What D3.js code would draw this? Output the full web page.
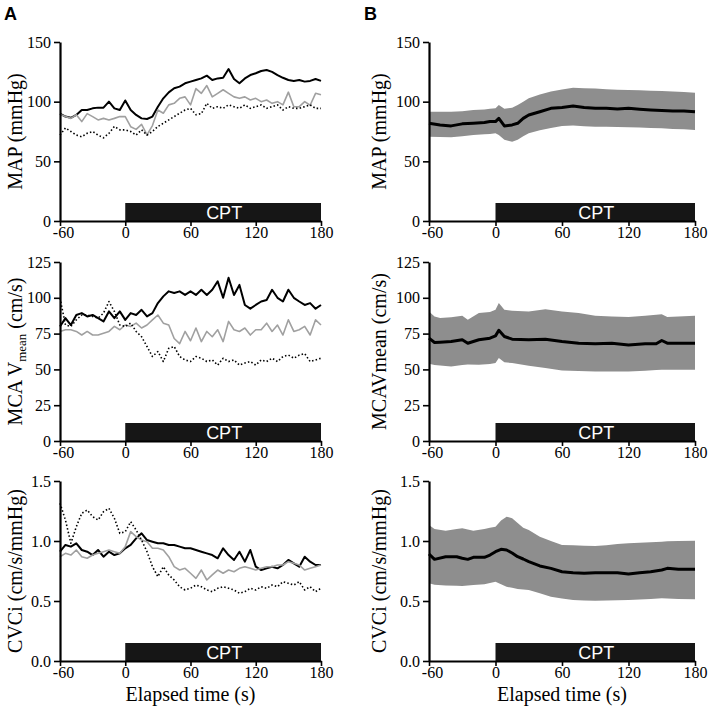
<!DOCTYPE html>
<html>
<head>
<meta charset="utf-8">
<script src="https://cdn.jsdelivr.net/npm/d3@7"></script>
<style>
  body { margin: 0; background: #fff; }
</style>
</head>
<body>
<div id="chart"></div>
<script>
// data

// panel A: individual subjects, sampled every 5 s
var aTime = [-60,-55,-50,-45,-40,-35,-30,-25,-20,-15,-10,-5,0,5,10,15,20,25,30,35,40,45,50,55,60,65,70,75,80,85,90,95,100,105,110,115,120,125,130,135,140,145,150,155,160,165,170,175,180];

var aMapBlack = [90,87.5,86.5,88.9,93,93,94.4,95,95,100,94.4,93,101,93,88.9,86,85.5,87.5,95.8,102.8,107.8,111.2,112.6,115.4,116.8,118.2,119.5,121.8,118.2,119.5,120,127.3,119,115.4,119.5,122.3,123.8,125.7,126.5,125,122.3,120,118.2,117.4,118.2,116.8,117.4,119,117.4];
var aMapGray = [89.4,87.5,86,89,83.3,90,87.5,84.7,86,84.7,86,87.5,87.5,79,76.8,81,72.2,80,93,90.3,97.3,98.6,102.8,104,97.3,111,107,113.5,104,107,110,107,104,102.8,104,101.4,102.8,100,101.4,98.6,100,97.3,108,95.8,95.8,100,97,107,105.8];
var aMapDot = [72,78,75,72,70.6,73.5,75,72,69.7,73.5,79.2,76.4,76.4,75,72,76.4,72,75,79.2,81.9,84.7,87.5,90.3,93,94.4,89,90,98.6,94.4,95.8,94.4,97.3,95.8,94.4,97.3,94.4,95.8,97.3,94.4,95.8,97.3,93,95.8,94.4,94.4,95.8,97.3,94.4,94.4];

var aMcaBlack = [80,85.8,81,88,89.3,87,88,85.8,83.5,90.5,85.8,90.5,84.6,89.3,88,91.6,87,89.3,96.3,101,104.5,103.3,104.5,102,104.5,102,105.6,102,105.6,111.5,100,114,102,109,95,92.4,95,97.4,98.5,105.6,100,97.4,105.6,100,97.4,95,96.3,92.4,95];
var aMcaGray = [76.5,77.7,77.7,76.5,74,76.5,74,74,75.3,76.5,80,77.7,81,80,82.3,78.9,81,84.6,88,82.3,81,71.6,68,76.5,70,78.9,69.4,76.5,72.8,77.7,69.4,83.5,77.7,76.5,78.9,74,77.7,77.7,82.3,76.5,81,74,84.6,76.5,77.7,80,74,84.6,81];
var aMcaDot = [99.8,81,80,84.6,88,88,87,85.8,89.3,97.4,90.5,81,80,82.3,76.5,72.8,66,59,62.5,55.5,64.7,66,59,56.6,55.5,59,57.8,55.5,56.6,53,57.8,55.5,56.6,53,54.4,55.5,53,56.6,55.5,57.8,55.5,59,60,57.8,60,61,55.5,56.6,57.8];

var aCvcBlack = [0.911,0.967,0.953,0.981,0.925,0.911,0.883,0.925,0.869,0.911,0.883,0.897,0.939,0.967,1.022,1.064,1.008,0.994,0.981,0.981,0.967,0.967,0.953,0.939,0.939,0.925,0.911,0.897,0.883,0.856,0.939,0.883,0.842,0.911,0.828,0.925,0.786,0.758,0.772,0.786,0.772,0.8,0.842,0.814,0.786,0.869,0.828,0.8,0.8];
var aCvcGray = [0.869,0.897,0.883,0.925,0.869,0.856,0.883,0.897,0.911,0.925,0.911,0.897,0.953,1.078,1.036,1.008,0.994,0.939,0.939,0.925,0.869,0.786,0.758,0.772,0.731,0.689,0.758,0.675,0.717,0.758,0.731,0.758,0.744,0.772,0.786,0.772,0.758,0.772,0.786,0.786,0.8,0.8,0.828,0.814,0.8,0.758,0.772,0.786,0.8];
var aCvcDot = [1.314,1.175,0.981,1.119,1.231,1.258,1.203,1.175,1.244,1.272,1.189,1.064,1.078,1.161,1.092,1.008,0.911,0.786,0.703,0.786,0.717,0.675,0.619,0.592,0.606,0.633,0.619,0.592,0.578,0.606,0.619,0.606,0.592,0.564,0.578,0.606,0.592,0.619,0.606,0.633,0.619,0.661,0.647,0.633,0.661,0.592,0.619,0.578,0.606];

// panel B: group mean with SD band
var bMapTime = [-60,-50,-40,-30,-20,-10,-5,0,3,8,15,20,25,30,40,50,60,70,80,90,100,110,120,130,140,150,160,170,180];
var bMapMean = [81.9,80.5,79.7,81.4,81.9,82.5,83.3,83.3,86,79.7,80.5,81.9,86,88.8,91.6,94.4,95.2,96.3,95.2,94.4,94.4,93.8,94.4,93.6,93,92.5,92.2,92.2,91.6];
var bMapHi = [91.6,91.5,91.6,92,93,93.5,94,94.4,97.2,94,95,97.2,100,102.8,106,108.5,110.3,111.7,111.2,111,110.5,110,109.7,109.5,109.2,109,108.5,108,107.5];
var bMapLo = [70.7,70.4,70.1,71,72.1,72.8,73,73.5,72,68,66.5,68,71,73.5,76,78,79.7,80,79.5,79,79,78.8,78.6,78.3,78,77.7,77.2,76.8,76.3];

var bMcaTime = [-60,-55,-50,-40,-30,-25,-15,-5,0,3,8,15,30,45,60,75,90,105,120,135,145,150,155,165,180];
var bMcaMean = [71.8,68.8,69,69.5,70.7,68.3,70.7,71.8,73.4,77.3,73,71.1,70.7,71.1,69.5,68.3,67.9,68.3,67.1,67.9,67.9,70.2,68.3,68.3,68.3];
var bMcaHi = [90.5,87,85.9,86.5,87.5,84.6,89.3,90,91.6,96.3,91.6,91,90.5,92,90.5,89.3,87.5,87,86.6,87.5,88.2,88.5,86.6,87,87.5];
var bMcaLo = [53.9,53,52.8,52.1,53,53.5,53.2,53.8,54.4,57.9,55,54.4,52.5,50.9,49.3,48.8,48.6,48.6,48.6,49,49.5,49.8,49.8,49.8,49.8];

var bCvcTime = [-60,-55,-45,-35,-30,-25,-20,-10,-5,0,5,10,15,20,25,30,40,50,60,70,80,90,100,110,120,130,140,150,155,165,180];
var bCvcMean = [0.892,0.847,0.869,0.869,0.856,0.847,0.864,0.864,0.883,0.911,0.931,0.925,0.9,0.869,0.85,0.828,0.792,0.772,0.744,0.736,0.731,0.736,0.736,0.736,0.725,0.736,0.744,0.758,0.772,0.764,0.764];
var bCvcHi = [1.133,1.1,1.085,1.1,1.106,1.095,1.086,1.1,1.11,1.119,1.17,1.203,1.19,1.15,1.11,1.092,1.036,1.0,0.967,0.965,0.96,0.958,0.965,0.975,0.981,0.985,0.99,0.994,0.998,1.0,1.003];
var bCvcLo = [0.647,0.635,0.63,0.628,0.625,0.63,0.633,0.64,0.65,0.661,0.64,0.619,0.61,0.6,0.595,0.592,0.565,0.536,0.52,0.508,0.505,0.503,0.505,0.507,0.508,0.512,0.516,0.522,0.52,0.516,0.514];

// axis ticks
var xTicks = [-60, 0, 60, 120, 180];
var mapTicks = [0, 50, 100, 150];
var mcaTicks = [0, 25, 50, 75, 100, 125];
var cvcTicks = [0, 0.5, 1.0, 1.5];
var cptStart = 0, cptEnd = 180;

// layout
var svgWidth = 709, svgHeight = 708;
var cols = [{x0: 60, x1: 321, labelX: 22}, {x0: 429, x1: 695, labelX: 386}];
var rows = [{y0: 42, y1: 221}, {y0: 262, y1: 441}, {y0: 481, y1: 661}];
var serif = '"Liberation Serif", "Times New Roman", serif';
var sans = '"Liberation Sans", Arial, sans-serif';

var svg = d3.select('#chart')
  .append('svg')
  .attr('width', svgWidth)
  .attr('height', svgHeight);

// panel letters
svg.append('text').attr('x', 4).attr('y', 20)
  .style('font-family', sans).style('font-weight', 'bold').style('font-size', '18px')
  .text('A');
svg.append('text').attr('x', 364).attr('y', 20)
  .style('font-family', sans).style('font-weight', 'bold').style('font-size', '18px')
  .text('B');

// plain hyphen for negative numbers, like the figure
var xFmt = d => String(d);

// draws one panel with axes and the CPT bar, returns the scales
function drawPanel(col, row, yMax, yTicks, yFmt) {
  var x = d3.scaleLinear().domain([-60, 180]).range([col.x0, col.x1]);
  var y = d3.scaleLinear().domain([0, yMax]).range([row.y1, row.y0]);

  var g = svg.append('g');

  // CPT bar
  g.append('rect')
    .attr('x', x(cptStart))
    .attr('y', row.y1 - 18)
    .attr('width', x(cptEnd) - x(cptStart))
    .attr('height', 18)
    .attr('fill', '#161616');
  g.append('text')
    .attr('x', (x(cptStart) + x(cptEnd)) / 2 + 1)
    .attr('y', row.y1 - 2)
    .attr('text-anchor', 'middle')
    .style('font-family', sans)
    .style('font-size', '18px')
    .attr('fill', '#fff')
    .text('CPT');

  var xAxis = g.append('g')
    .attr('transform', `translate(0, ${row.y1})`)
    .call(d3.axisBottom(x).tickValues(xTicks).tickFormat(xFmt).tickSize(5).tickSizeOuter(0).tickPadding(1));
  xAxis.selectAll('text')
    .style('font-family', serif)
    .style('font-size', '16px')
    .attr('fill', '#000');
  // nudge the first label clear of the y-axis zero
  xAxis.selectAll('.tick text').filter(d => d === -60).attr('dx', 3);

  var yAxis = g.append('g')
    .attr('transform', `translate(${col.x0}, 0)`)
    .call(d3.axisLeft(y).tickValues(yTicks).tickFormat(yFmt).tickSize(6).tickSizeOuter(0).tickPadding(3));
  yAxis.selectAll('text')
    .style('font-family', serif)
    .style('font-size', '16px')
    .attr('fill', '#000');

  g.selectAll('.domain').attr('stroke-width', 2.2);
  g.selectAll('.tick line').attr('stroke-width', 1.6);

  return {x: x, y: y, g: g};
}

function drawLine(p, times, values, color, width, dash) {
  var line = d3.line()
    .x((d, i) => p.x(times[i]))
    .y(d => p.y(d));
  p.g.insert('path', ':first-child')
    .datum(values)
    .attr('d', line)
    .attr('fill', 'none')
    .attr('stroke', color)
    .attr('stroke-width', width)
    .attr('stroke-linejoin', 'round')
    .attr('stroke-dasharray', dash);
}

function drawBand(p, times, mean, lo, hi) {
  var area = d3.area()
    .x((d, i) => p.x(times[i]))
    .y0((d, i) => p.y(lo[i]))
    .y1((d, i) => p.y(hi[i]));
  var line = d3.line()
    .x((d, i) => p.x(times[i]))
    .y(d => p.y(d));
  var layer = p.g.insert('g', ':first-child');
  layer.append('path')
    .datum(mean)
    .attr('d', area)
    .attr('fill', '#8e8e8e');
  layer.append('path')
    .datum(mean)
    .attr('d', line)
    .attr('fill', 'none')
    .attr('stroke', '#000')
    .attr('stroke-width', 3)
    .attr('stroke-linejoin', 'round');
}

function yLabel(col, row, build) {
  var t = svg.append('text')
    .attr('transform', `translate(${col.labelX}, ${(row.y0 + row.y1) / 2}) rotate(-90)`)
    .attr('text-anchor', 'middle')
    .style('font-family', serif)
    .style('font-size', '20px');
  build(t);
}

var intFmt = d3.format('d');
var decFmt = d3.format('.1f');

// panel A
var pA1 = drawPanel(cols[0], rows[0], 150, mapTicks, intFmt);
drawLine(pA1, aTime, aMapDot, '#000', 1.6, '1.5,2.2');
drawLine(pA1, aTime, aMapGray, '#a0a0a0', 1.6, null);
drawLine(pA1, aTime, aMapBlack, '#000', 2, null);

var pA2 = drawPanel(cols[0], rows[1], 125, mcaTicks, intFmt);
drawLine(pA2, aTime, aMcaDot, '#000', 1.6, '1.5,2.2');
drawLine(pA2, aTime, aMcaGray, '#a0a0a0', 1.6, null);
drawLine(pA2, aTime, aMcaBlack, '#000', 2, null);

var pA3 = drawPanel(cols[0], rows[2], 1.5, cvcTicks, decFmt);
drawLine(pA3, aTime, aCvcDot, '#000', 1.6, '1.5,2.2');
drawLine(pA3, aTime, aCvcGray, '#a0a0a0', 1.6, null);
drawLine(pA3, aTime, aCvcBlack, '#000', 2, null);

// panel B
var pB1 = drawPanel(cols[1], rows[0], 150, mapTicks, intFmt);
drawBand(pB1, bMapTime, bMapMean, bMapLo, bMapHi);
var pB2 = drawPanel(cols[1], rows[1], 125, mcaTicks, intFmt);
drawBand(pB2, bMcaTime, bMcaMean, bMcaLo, bMcaHi);
var pB3 = drawPanel(cols[1], rows[2], 1.5, cvcTicks, decFmt);
drawBand(pB3, bCvcTime, bCvcMean, bCvcLo, bCvcHi);

// y axis titles
yLabel(cols[0], rows[0], t => t.text('MAP (mmHg)'));
yLabel(cols[0], rows[1], t => {
  t.append('tspan').text('MCA V');
  t.append('tspan').attr('dy', 4).style('font-size', '13px').text('mean');
  t.append('tspan').attr('dy', -4).text(' (cm/s)');
});
yLabel(cols[0], rows[2], t => t.text('CVCi (cm/s/mmHg)'));
yLabel(cols[1], rows[0], t => t.text('MAP (mmHg)'));
yLabel(cols[1], rows[1], t => t.text('MCAVmean (cm/s)'));
yLabel(cols[1], rows[2], t => t.text('CVCi (cm/s/mmHg)'));

// x axis titles
cols.forEach(function(col) {
  svg.append('text')
    .attr('x', (col.x0 + col.x1) / 2)
    .attr('y', 701)
    .attr('text-anchor', 'middle')
    .style('font-family', serif)
    .style('font-size', '20px')
    .text('Elapsed time (s)');
});
</script>
</body>
</html>
